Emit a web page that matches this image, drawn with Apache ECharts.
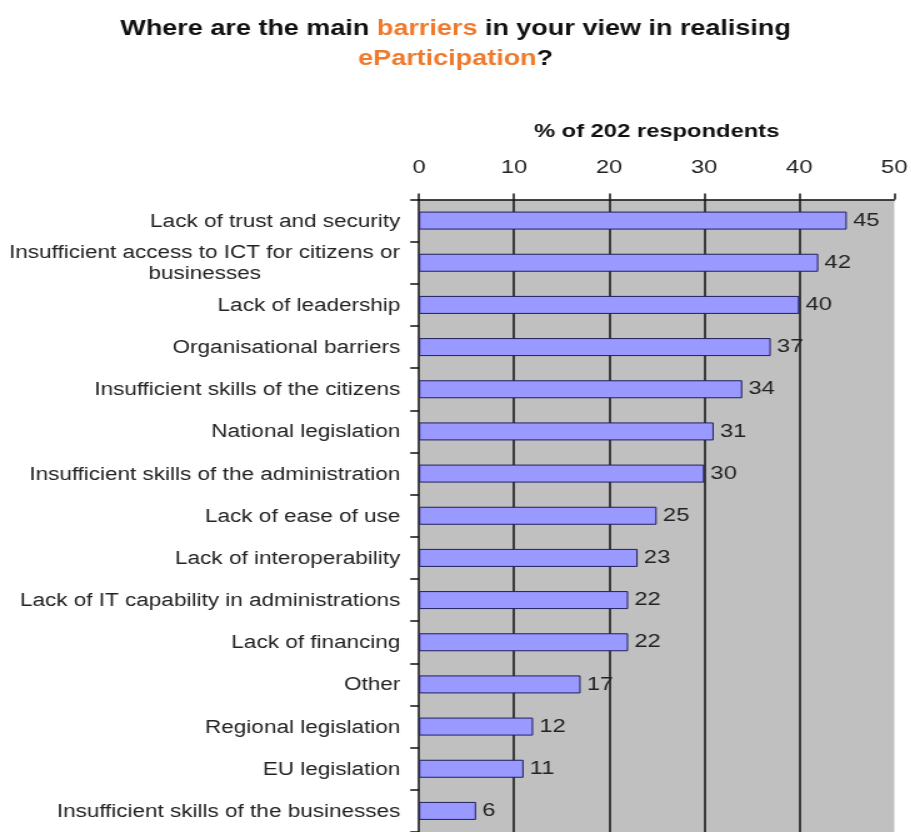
<!DOCTYPE html>
<html>
<head>
<meta charset="utf-8">
<title>Barriers to eParticipation</title>
<script src="https://cdn.jsdelivr.net/npm/echarts@6/dist/echarts.min.js"></script>
<style>
  html, body { margin: 0; padding: 0; background: #fff; overflow: hidden; }
  #wrap { width: 911px; height: 832px; overflow: hidden; }
  /* the chart is laid out narrow and widened horizontally */
  #chart { width: 729px; height: 832px; transform: scaleX(1.25); transform-origin: 0 0; }
</style>
</head>
<body>
<div id="wrap"><div id="chart"></div></div>
<script>
// Barriers named by respondents, top to bottom
const categories = [
  'Lack of trust and security',
  'Insufficient access to ICT for citizens or businesses',
  'Lack of leadership',
  'Organisational barriers',
  'Insufficient skills of the citizens',
  'National legislation',
  'Insufficient skills of the administration',
  'Lack of ease of use',
  'Lack of interoperability',
  'Lack of IT capability in administrations',
  'Lack of financing',
  'Other',
  'Regional legislation',
  'EU legislation',
  'Insufficient skills of the businesses'
];

// Share of the 202 respondents (%)
const values = [45, 42, 40, 37, 34, 31, 30, 25, 23, 22, 22, 17, 12, 11, 6];

// Value axis range and tick step
const axisMin = 0;
const axisMax = 50;
const axisStep = 10;

const FONT = "'Liberation Sans', Arial, Helvetica, sans-serif";

const chart = echarts.init(document.getElementById('chart'), null, { renderer: 'canvas' });

chart.setOption({
  animation: false,
  backgroundColor: '#ffffff',
  title: {
    left: 'center',
    top: 9,
    text: '{b|Where are the main }{o|barriers}{b| in your view in realising}\n{o|eParticipation}{b|?}',
    textStyle: {
      fontFamily: FONT,
      lineHeight: 30,
      rich: {
        b: { fontFamily: FONT, fontSize: 21.6, fontWeight: 'bold', color: '#111111', lineHeight: 30 },
        o: { fontFamily: FONT, fontSize: 21.6, fontWeight: 'bold', color: '#ef7a2c', lineHeight: 30 }
      }
    }
  },
  grid: {
    left: 335.2,
    top: 199.5,
    width: 381.1,
    height: 640.5,
    show: true,
    backgroundColor: '#c0c0c0',
    borderWidth: 0,
    containLabel: false
  },
  xAxis: {
    type: 'value',
    position: 'top',
    min: axisMin,
    max: axisMax,
    interval: axisStep,
    name: '% of 202 respondents',
    nameLocation: 'middle',
    nameGap: 58,
    nameTextStyle: { fontFamily: FONT, fontSize: 19, fontWeight: 'bold', color: '#111111' },
    axisLine: { show: true, lineStyle: { color: '#111111', width: 1.5 } },
    axisTick: { show: true, length: 6, lineStyle: { color: '#111111', width: 1.5 } },
    axisLabel: { margin: 22, fontFamily: FONT, fontSize: 19, color: '#222222' },
    splitLine: {
      show: true,
      showMinLine: false,
      showMaxLine: false,
      lineStyle: { color: '#111111', width: 1.5 }
    }
  },
  yAxis: {
    type: 'category',
    inverse: true,
    data: categories,
    axisLine: { show: true, lineStyle: { color: '#111111', width: 1.5 } },
    axisTick: { show: true, length: 7, lineStyle: { color: '#111111', width: 1.5 } },
    axisLabel: {
      margin: 15,
      fontFamily: FONT,
      fontSize: 18,
      color: '#222222',
      lineHeight: 21,
      padding: [2, 0, 0, 0],
      formatter: function (v) {
        if (v === 'Insufficient access to ICT for citizens or businesses') {
          return '{w|Insufficient access to ICT for citizens or}\n{w|businesses}';
        }
        return v;
      },
      rich: {
        w: { fontFamily: FONT, fontSize: 18, color: '#222222', width: 313, align: 'center', lineHeight: 21 }
      }
    }
  },
  series: [{
    type: 'bar',
    data: values,
    barWidth: 18,
    itemStyle: { color: '#9999ff', borderColor: '#1f1f5c', borderWidth: 1 },
    label: {
      show: true,
      position: 'right',
      distance: 5,
      padding: [2, 0, 0, 0],
      fontFamily: FONT,
      fontSize: 19,
      color: '#222222'
    }
  }]
});
</script>
</body>
</html>
